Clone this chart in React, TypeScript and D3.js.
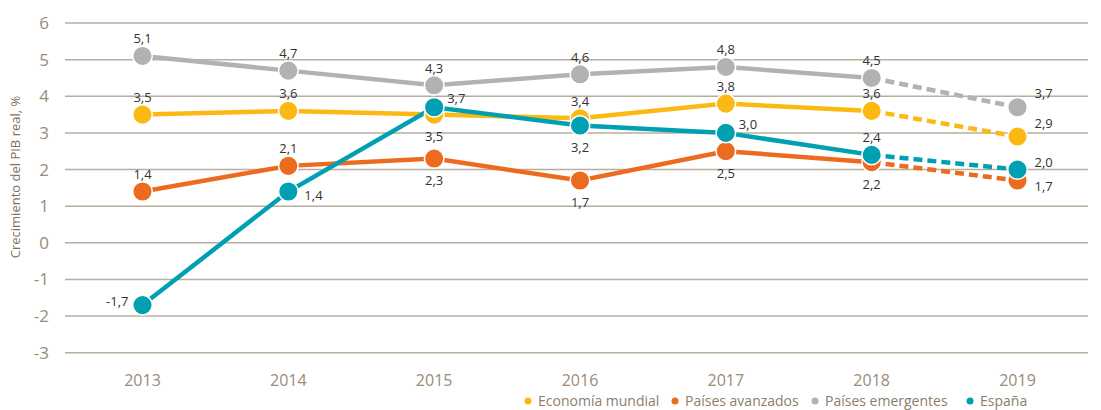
import React from "react";
import * as d3 from "d3";

const years = ["2013", "2014", "2015", "2016", "2017", "2018", "2019"];
const yTicks = [6, 5, 4, 3, 2, 1, 0, -1, -2, -3];
const economiaMundial = [3.5, 3.6, 3.5, 3.4, 3.8, 3.6, 2.9];
const paisesAvanzados = [1.4, 2.1, 2.3, 1.7, 2.5, 2.2, 1.7];
const paisesEmergentes = [5.1, 4.7, 4.3, 4.6, 4.8, 4.5, 3.7];
const espana = [-1.7, 1.4, 3.7, 3.2, 3.0, 2.4, 2.0];
const seriesNames = ["Economía mundial", "Países avanzados", "Países emergentes", "España"];
// label placement per point: a=above, b=below, l=left, r=right, ru=right-up, rb=right-below, br=below-right
const posMundial = ["a", "a", "b", "a", "a", "a", "ru"];
const posAvanzados = ["a", "a", "b", "b", "b", "b", "rb"];
const posEmergentes = ["a", "a", "a", "a", "a", "a", "ru"];
const posEspana = ["l", "br", "r", "b", "r", "a", "r2"];

const colors = ["#FDB913", "#EC6B1E", "#B2B2B2", "#00A0B2"];
const FONT = "'Open Sans', sans-serif";

export default function App() {
  const W = 1101, H = 410;
  const x = d3.scalePoint<string>().domain(years).range([142.5, 1017.5]);
  const y = d3.scaleLinear().domain([-3, 6]).range([352.7, 23]);
  const series = [
    { name: seriesNames[0], values: economiaMundial, pos: posMundial, color: colors[0] },
    { name: seriesNames[1], values: paisesAvanzados, pos: posAvanzados, color: colors[1] },
    { name: seriesNames[2], values: paisesEmergentes, pos: posEmergentes, color: colors[2] },
    { name: seriesNames[3], values: espana, pos: posEspana, color: colors[3] },
  ];
  const drawOrder = [2, 0, 1, 3];
  const line = d3.line<[string, number]>().x((d) => x(d[0])!).y((d) => y(d[1]));
  const fmt = (v: number) => v.toFixed(1).replace(".", ",");
  const labelOffset = (p: string): [number, number, string] => {
    switch (p) {
      case "a": return [0, -12.5, "middle"];
      case "b": return [0, 26.5, "middle"];
      case "l": return [-14, 0.5, "end"];
      case "r": return [13, -4, "start"];
      case "r2": return [17, -2.5, "start"];
      case "ru": return [17, -9, "start"];
      case "rb": return [17, 10, "start"];
      case "br": return [16, 8.5, "start"];
      default: return [0, -12.5, "middle"];
    }
  };
  const legendX = [528, 675, 815, 970];
  return (
    <svg width={W} height={H} style={{ position: "absolute", left: 0, top: 0, background: "#fff" }} fontFamily={FONT}>
      {yTicks.map((t) => (
        <g key={t}>
          <line x1={65} x2={1088} y1={y(t)} y2={y(t)} stroke="#B9AE9E" strokeWidth={1.5} />
          <text x={49} y={y(t) + 6} textAnchor="end" fontSize={17} fill="#9A8B79">{t}</text>
        </g>
      ))}
      {years.map((yr) => (
        <text key={yr} x={x(yr)} y={386} textAnchor="middle" fontSize={16} fill="#9A8B79">{yr}</text>
      ))}
      <text transform={`translate(20,177) rotate(-90)`} textAnchor="middle" fontSize={13} fill="#7F7162">Crecimiento del PIB real, %</text>
      {drawOrder.map((i) => {
        const s = series[i];
        const pts: [string, number][] = years.map((yr, k) => [yr, s.values[k]]);
        return (
          <g key={s.name}>
            <path d={line(pts.slice(0, 6))!} fill="none" stroke={s.color} strokeWidth={4.5} />
            <path d={line(pts.slice(5, 7))!} fill="none" stroke={s.color} strokeWidth={4.5} strokeDasharray="9,5" />
          </g>
        );
      })}
      {drawOrder.map((i) => {
        const s = series[i];
        return (
          <g key={s.name + "m"}>
            {years.map((yr, k) => (
              <circle key={yr} cx={x(yr)} cy={y(s.values[k])} r={9.8} fill={s.color} stroke="#fff" strokeWidth={1.5} />
            ))}
          </g>
        );
      })}
      {series.map((s) => (
        <g key={s.name + "l"}>
          {years.map((yr, k) => {
            const [dx, dy, anchor] = labelOffset(s.pos[k]);
            return (
              <text key={yr} x={x(yr)! + dx} y={y(s.values[k]) + dy} textAnchor={anchor as any} fontSize={13} fill="#333">
                {fmt(s.values[k])}
              </text>
            );
          })}
        </g>
      ))}
      {series.map((s, i) => (
        <g key={s.name + "lg"}>
          <circle cx={legendX[i]} cy={401} r={3.5} fill={s.color} />
          <text x={legendX[i] + 10} y={406} fontSize={14} fill="#8C7D6C">{s.name}</text>
        </g>
      ))}
    </svg>
  );
}
